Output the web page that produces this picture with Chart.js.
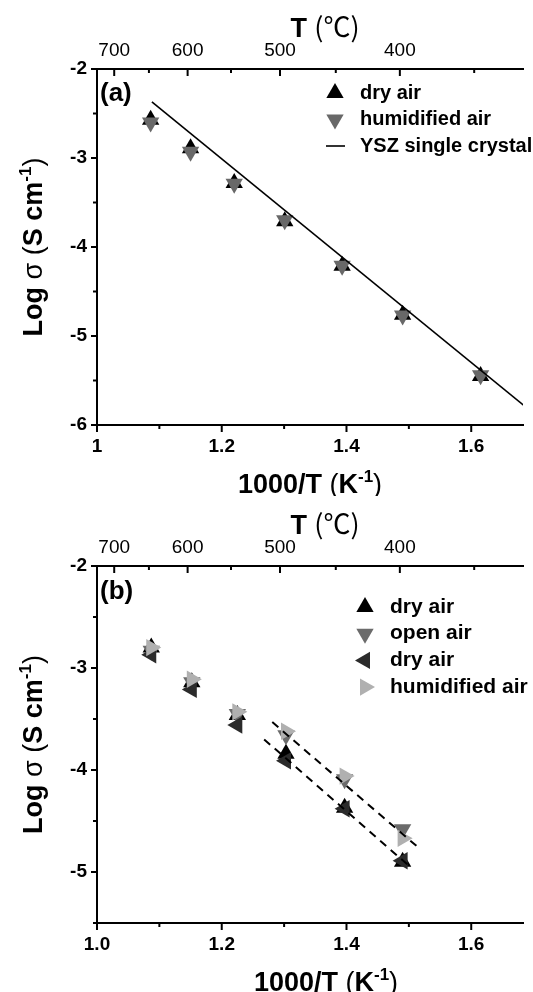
<!DOCTYPE html>
<html>
<head>
<meta charset="utf-8">
<script src="https://cdn.jsdelivr.net/npm/chart.js@4.4.0/dist/chart.umd.min.js"></script>
<style>
    html, body { margin: 0; padding: 0; background: #fff; }
    .panel { position: relative; width: 533px; height: 496px; }
</style>
</head>
<body>
<div class="panel"><canvas id="chart-a" width="533" height="496"></canvas></div>
<div class="panel"><canvas id="chart-b" width="533" height="496"></canvas></div>
<script>
// panel (a) data
const invTempA = [1.086, 1.150, 1.220, 1.301, 1.393, 1.490, 1.615];
const dryAirA = [-2.57, -2.89, -3.28, -3.71, -4.21, -4.76, -5.45];
const humidAirA = [-2.60, -2.93, -3.29, -3.70, -4.21, -4.77, -5.44];
const crystalX = [1.088, 1.70];
const crystalY = [-2.37, -5.87];

// panel (b) data
const invTempB = [1.087, 1.152, 1.225, 1.303, 1.397, 1.490];
const dryAirB = [-2.80, -3.14, -3.46, -3.84, -4.37, -4.90];
const openAirB = [-2.83, -3.14, -3.45, -3.66, -4.09, -4.58];
const dryAirB2 = [-2.87, -3.21, -3.56, -3.91, -4.38, -4.89];
const humidAirB = [-2.80, -3.11, -3.43, -3.62, -4.06, -4.67];
const fitUpperX = [1.281, 1.519];
const fitUpperY = [-3.53, -4.78];
const fitLowerX = [1.268, 1.504];
const fitLowerY = [-3.70, -4.96];

// ticks
const topTempTicks = [700, 600, 500, 400];
const topTempMinor = [650, 550, 450, 350];
const bottomTicks = [1.0, 1.2, 1.4, 1.6];
const bottomMinor = [1.1, 1.3, 1.5];
const bottomLabelsA = ['1', '1.2', '1.4', '1.6'];
const bottomLabelsB = ['1.0', '1.2', '1.4', '1.6'];
const yTicksA = [-6, -5, -4, -3, -2];
const yMinorA = [-5.5, -4.5, -3.5, -2.5];
const yTicksB = [-5, -4, -3, -2];
const yMinorB = [-5.5, -4.5, -3.5, -2.5];

const SANS = "'Liberation Sans', Arial, sans-serif";
const CJK = "'Noto Sans CJK SC', sans-serif";

function toInv(t) {
    return 1000 / (t + 273.15);
}

function points(xs, ys) {
    return xs.map((x, i) => ({ x: x, y: ys[i] }));
}

function markerSet(label, xs, ys, color, rotation, order) {
    return {
        label: label,
        data: points(xs, ys),
        showLine: false,
        pointStyle: 'triangle',
        rotation: rotation,
        pointRadius: 10,
        pointBorderWidth: 0,
        pointBackgroundColor: color,
        backgroundColor: color,
        borderColor: color,
        order: order
    };
}

function lineSet(label, xs, ys, dash, order) {
    return {
        label: label,
        data: points(xs, ys),
        showLine: true,
        pointRadius: 0,
        borderColor: '#000',
        borderWidth: dash ? 2 : 1.6,
        borderDash: dash || [],
        order: order,
        isLine: true
    };
}

function drawRich(ctx, parts, x, y, align) {
    let total = 0;
    parts.forEach(p => {
        ctx.font = p.font;
        total += ctx.measureText(p.text).width;
    });
    let cx = align === 'center' ? x - total / 2 : x;
    ctx.textAlign = 'left';
    ctx.textBaseline = 'alphabetic';
    parts.forEach(p => {
        ctx.font = p.font;
        ctx.fillText(p.text, cx, y + (p.dy || 0));
        cx += ctx.measureText(p.text).width;
    });
}

const bold = s => `bold ${s}px ${SANS}`;
const normal = s => `${s}px ${SANS}`;

const invTitle = [
    { text: '1000/T ', font: bold(27) },
    { text: '(', font: normal(27) },
    { text: 'K', font: bold(27) },
    { text: '-1', font: bold(17), dy: -11 },
    { text: ')', font: normal(27) }
];
const logTitle = [
    { text: 'Log ', font: bold(27) },
    { text: 'σ', font: normal(27) },
    { text: ' (', font: normal(27) },
    { text: 'S cm', font: bold(27) },
    { text: '-1', font: bold(17), dy: -11 },
    { text: ')', font: normal(27) }
];
const tempTitle = [
    { text: 'T ', font: bold(27) },
    { text: '(℃)', font: `27px ${CJK}` }
];

const decorPlugin = {
    id: 'decor',
    afterDraw(chart, args, o) {
        const ctx = chart.ctx;
        const area = chart.chartArea;
        const { x, x2, y } = chart.scales;
        ctx.save();
        ctx.strokeStyle = '#000';
        ctx.fillStyle = '#000';
        ctx.lineWidth = 2;
        const seg = (x0, y0, x1, y1) => {
            ctx.beginPath();
            ctx.moveTo(x0, y0);
            ctx.lineTo(x1, y1);
            ctx.stroke();
        };

        // tick marks
        bottomTicks.forEach(v => {
            const px = x.getPixelForValue(v);
            seg(px, area.bottom, px, area.bottom + 7);
        });
        bottomMinor.forEach(v => {
            const px = x.getPixelForValue(v);
            seg(px, area.bottom, px, area.bottom + 4);
        });
        topTempTicks.forEach(t => {
            const px = x2.getPixelForValue(toInv(t));
            seg(px, area.top, px, area.top + 7);
        });
        topTempMinor.forEach(t => {
            const px = x2.getPixelForValue(toInv(t));
            if (px < area.right) seg(px, area.top, px, area.top + 4);
        });
        o.yMajor.forEach(v => {
            const py = y.getPixelForValue(v);
            seg(area.left - 6, py, area.left, py);
        });
        o.yMinor.forEach(v => {
            const py = y.getPixelForValue(v);
            seg(area.left - 4, py, area.left, py);
        });

        // axis titles
        drawRich(ctx, tempTitle, o.topTitleX, area.top - 32, 'center');
        drawRich(ctx, invTitle, o.bottomTitleX, area.bottom + 68, 'center');
        ctx.save();
        ctx.translate(42, (area.top + area.bottom) / 2);
        ctx.rotate(-Math.PI / 2);
        drawRich(ctx, logTitle, 0, 0, 'center');
        ctx.restore();

        // panel letter
        ctx.font = bold(26);
        ctx.textAlign = 'left';
        ctx.textBaseline = 'middle';
        ctx.fillText(o.letter, 100, o.letterY);

        // legend
        chart.data.datasets.forEach((ds, i) => {
            const ly = o.legendY + i * o.legendGap;
            if (ds.isLine) {
                if (ds.borderDash.length) return;
                ctx.lineWidth = 1.6;
                seg(o.legendX - 9, ly, o.legendX + 10, ly);
            } else {
                ctx.fillStyle = ds.pointBackgroundColor;
                Chart.helpers.drawPoint(ctx, {
                    pointStyle: 'triangle',
                    rotation: ds.rotation,
                    radius: 10,
                    borderWidth: 0
                }, o.legendX, ly);
            }
            ctx.fillStyle = '#000';
            ctx.font = bold(o.legendSize);
            ctx.textAlign = 'left';
            ctx.textBaseline = 'middle';
            ctx.fillText(ds.label, o.legendX + 25, ly);
        });
        ctx.restore();
    }
};

function makeChart(id, datasets, p) {
    const tickFont = { family: SANS, size: 19, weight: 'bold' };
    return new Chart(document.getElementById(id), {
        type: 'scatter',
        data: { datasets: datasets },
        options: {
            responsive: false,
            animation: false,
            devicePixelRatio: 1,
            layout: { padding: 0 },
            plugins: {
                legend: { display: false },
                tooltip: { enabled: false },
                decor: p.decor
            },
            scales: {
                x: {
                    type: 'linear',
                    position: 'bottom',
                    min: 1,
                    max: 1.683,
                    afterFit: s => { s.height = p.bottomH; },
                    afterBuildTicks: s => { s.ticks = bottomTicks.map(v => ({ value: v })); },
                    ticks: {
                        callback: (v, i) => p.bottomLabels[i],
                        font: tickFont,
                        color: '#000',
                        padding: 10,
                        maxRotation: 0,
                        autoSkip: false
                    },
                    grid: { display: false, drawTicks: false },
                    border: { display: true, color: '#000', width: 2 }
                },
                x2: {
                    type: 'linear',
                    position: 'top',
                    min: 1,
                    max: 1.683,
                    afterFit: s => { s.height = p.topH; },
                    afterBuildTicks: s => { s.ticks = topTempTicks.map(t => ({ value: toInv(t) })); },
                    ticks: {
                        callback: (v, i) => String(topTempTicks[i]),
                        font: { family: SANS, size: 19 },
                        color: '#000',
                        padding: 7,
                        maxRotation: 0,
                        autoSkip: false
                    },
                    grid: { display: false, drawTicks: false },
                    border: { display: true, color: '#000', width: 2 }
                },
                y: {
                    type: 'linear',
                    min: p.yMin,
                    max: -2,
                    afterFit: s => { s.width = 97; },
                    afterBuildTicks: s => { s.ticks = p.yTicks.map(v => ({ value: v })); },
                    ticks: {
                        callback: v => String(v),
                        font: tickFont,
                        color: '#000',
                        padding: 10
                    },
                    grid: { display: false, drawTicks: false },
                    border: { display: true, color: '#000', width: 2 }
                }
            }
        },
        plugins: [decorPlugin]
    });
}

makeChart('chart-a', [
    markerSet('dry air', invTempA, dryAirA, '#000000', 0, 2),
    markerSet('humidified air', invTempA, humidAirA, '#686868', 180, 1),
    lineSet('YSZ single crystal', crystalX, crystalY, null, 0)
], {
    bottomH: 71,
    topH: 69,
    yMin: -6,
    yTicks: yTicksA,
    bottomLabels: bottomLabelsA,
    decor: {
        yMajor: yTicksA, yMinor: yMinorA,
        topTitleX: 325, bottomTitleX: 310,
        letter: '(a)', letterY: 94,
        legendX: 335, legendY: 93, legendGap: 26.5, legendSize: 20
    }
});

makeChart('chart-b', [
    markerSet('dry air', invTempB, dryAirB, '#000000', 0, 4),
    markerSet('open air', invTempB, openAirB, '#6b6b6b', 180, 3),
    markerSet('dry air', invTempB, dryAirB2, '#2b2b2b', 270, 2),
    markerSet('humidified air', invTempB, humidAirB, '#b0b0b0', 90, 1),
    lineSet('fit upper', fitUpperX, fitUpperY, [8, 6], 0),
    lineSet('fit lower', fitLowerX, fitLowerY, [8, 6], 0)
], {
    bottomH: 69,
    topH: 70,
    yMin: -5.5,
    yTicks: yTicksB,
    bottomLabels: bottomLabelsB,
    decor: {
        yMajor: [-5, -4, -3, -2], yMinor: yMinorB,
        topTitleX: 325, bottomTitleX: 326,
        letter: '(b)', letterY: 96,
        legendX: 365, legendY: 111, legendGap: 26.7, legendSize: 21
    }
});
</script>
</body>
</html>
